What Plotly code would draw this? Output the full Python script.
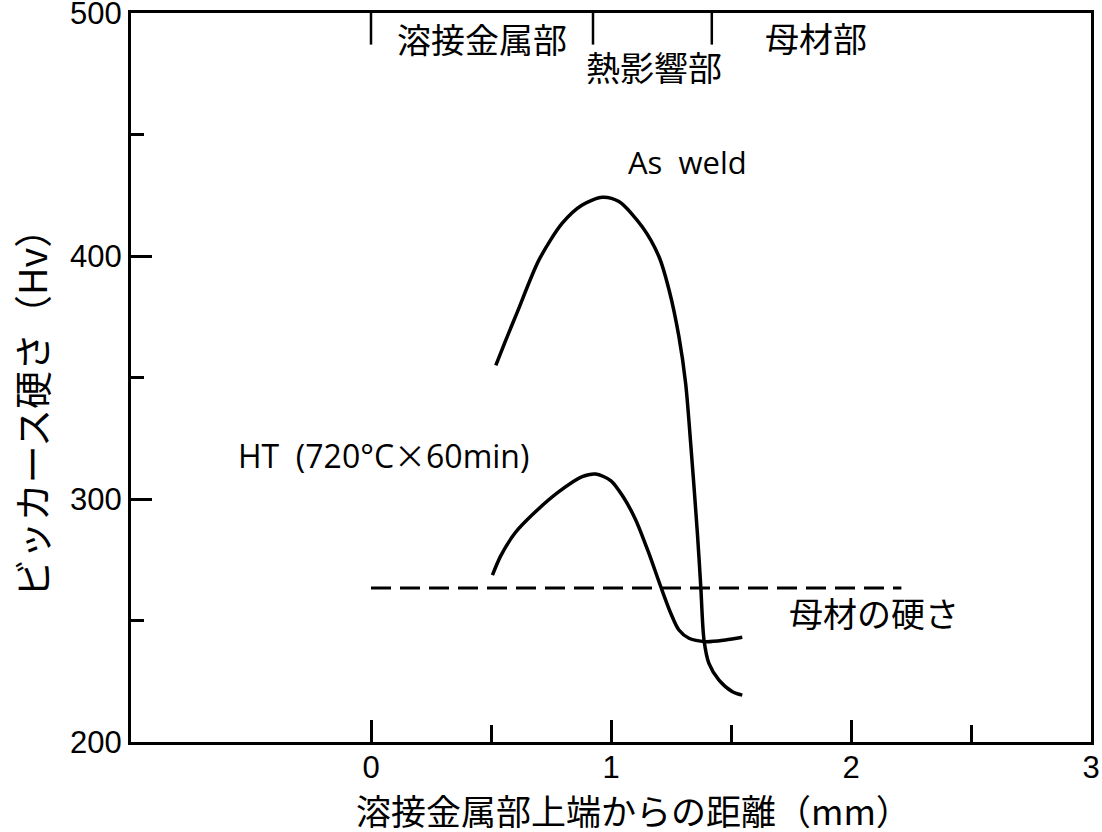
import plotly.graph_objects as go

# Hardness profiles across the weld (distance from top of weld metal, mm -> Hv)
as_weld_x = [0.52, 0.56, 0.61, 0.70, 0.797, 0.88, 0.964, 1.033, 1.13, 1.20, 1.242,
             1.283, 1.311, 1.332, 1.36, 1.374, 1.3875, 1.408, 1.45, 1.506, 1.547]
as_weld_y = [355, 365, 377, 398.4, 413.5, 421, 424.2, 422.4, 412, 399.7, 386,
             366.8, 347.6, 322.9, 285.9, 264, 242, 232.4, 225.5, 220.7, 219.3]

ht_x = [0.506, 0.54, 0.60, 0.672, 0.783, 0.88, 0.936, 1.0, 1.05, 1.103, 1.158,
        1.207, 1.249, 1.283, 1.325, 1.394, 1.477, 1.547]
ht_y = [268.7, 276.5, 286, 293.5, 303, 309.2, 310.3, 307.5, 301, 291.4, 277.6,
        264, 253, 246.1, 242.7, 241.3, 242, 243.1]

# Base metal hardness reference line
base_x = [0.0, 2.21]
base_y = [263.4, 263.4]

# Zone boundaries along the top edge and their names
zone_bounds = [0.0, 0.925, 1.42]
zone_names = ["溶接金属部", "熱影響部", "母材部"]

x_tick_vals = [0, 1, 2, 3]
x_tick_text = ["0", "1", "2", "3"]
x_minor_vals = [0.5, 1.5, 2.5]
y_tick_vals = [200, 300, 400, 500]
y_tick_text = ["200", "300", "400", "500"]
y_minor_vals = [250, 350, 450]

CJK = "Noto Sans CJK JP"
NUM = "Liberation Sans Narrow, Arial Narrow, Liberation Sans, sans-serif"
LAT = "Open Sans, sans-serif"

fig = go.Figure()

curve_line = dict(color="black", width=3.5, shape="spline", smoothing=0.8)
fig.add_trace(go.Scatter(x=as_weld_x, y=as_weld_y, mode="lines", line=curve_line,
                         showlegend=False, hoverinfo="skip"))
fig.add_trace(go.Scatter(x=ht_x, y=ht_y, mode="lines", line=curve_line,
                         showlegend=False, hoverinfo="skip"))
fig.add_trace(go.Scatter(x=base_x, y=base_y, mode="lines",
                         line=dict(color="black", width=3, dash="20px,9px"),
                         showlegend=False, hoverinfo="skip"))

# zone separators hanging from the top frame
for xb in zone_bounds:
    fig.add_shape(type="line", x0=xb, x1=xb, y0=500, y1=487,
                  line=dict(color="black", width=2.5))

zone_pos = [(0.4625, 489.5), (1.18, 478.0), (1.854, 489.9)]
for name, (zx, zy) in zip(zone_names, zone_pos):
    fig.add_annotation(x=zx, y=zy, text=name, showarrow=False,
                       font=dict(family=CJK, size=34, color="black"),
                       xanchor="center", yanchor="middle")

fig.add_annotation(x=1.317, y=438.7, text="As\u00a0 weld", showarrow=False,
                   font=dict(family=LAT, size=31, color="black"),
                   xanchor="center", yanchor="middle")
fig.add_annotation(x=0.05, y=318.5,
                   text="HT\u00a0 (720°C<span style=\"font-family:Noto Sans CJK JP\">×</span>60min)",
                   showarrow=False,
                   font=dict(family=LAT, size=32, color="black"),
                   xanchor="center", yanchor="middle")
fig.add_annotation(x=2.096, y=253.2, text="母材の硬さ", showarrow=False,
                   font=dict(family=CJK, size=34, color="black"),
                   xanchor="center", yanchor="middle")

# axis titles
fig.add_annotation(xref="paper", yref="paper", x=0.523, y=-0.092,
                   text="溶接金属部上端からの距離（mm）", showarrow=False,
                   font=dict(family=CJK, size=35, color="black"),
                   xanchor="center", yanchor="middle")
fig.add_annotation(xref="paper", yref="paper", x=-0.105, y=0.465,
                   text="ビッカース硬さ（Hv）", showarrow=False, textangle=-90,
                   font=dict(family=CJK, size=38, color="black"),
                   xanchor="center", yanchor="middle")

fig.update_xaxes(range=[-1, 3], showgrid=False, zeroline=False,
                 showline=True, linecolor="black", linewidth=3, mirror=True,
                 tickmode="array", tickvals=x_tick_vals, ticktext=x_tick_text,
                 ticks="inside", ticklen=22, tickwidth=2.5, tickcolor="black",
                 minor=dict(tickmode="array", tickvals=x_minor_vals, ticks="inside",
                            ticklen=17, tickwidth=2.5, tickcolor="black"),
                 tickfont=dict(family=NUM, size=31, color="black"),
                 ticklabelstandoff=-4, ticklabeloverflow="allow")
fig.update_yaxes(range=[200, 500], showgrid=False, zeroline=False,
                 showline=True, linecolor="black", linewidth=3, mirror=True,
                 tickmode="array", tickvals=y_tick_vals, ticktext=y_tick_text,
                 ticks="inside", ticklen=21, tickwidth=2.5, tickcolor="black",
                 minor=dict(tickmode="array", tickvals=y_minor_vals, ticks="inside",
                            ticklen=13, tickwidth=2.5, tickcolor="black"),
                 tickfont=dict(family=NUM, size=31, color="black"),
                 ticklabelstandoff=0, ticklabeloverflow="allow")

fig.update_layout(width=1102, height=832,
                  margin=dict(l=131, r=11, t=13, b=90, autoexpand=False),
                  paper_bgcolor="white", plot_bgcolor="white",
                  showlegend=False)

fig.write_html("out.html")
